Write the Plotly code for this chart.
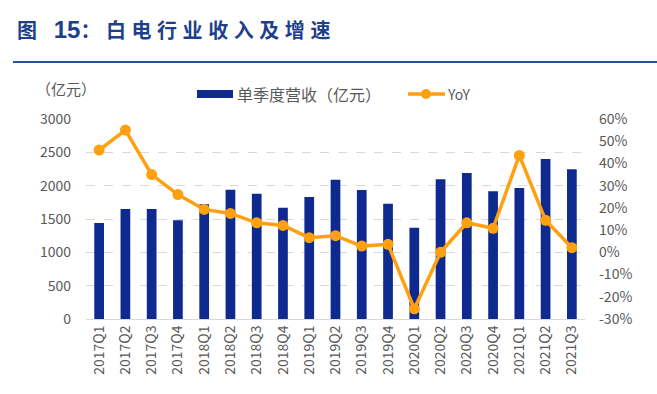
import plotly.graph_objects as go

quarters = ["2017Q1","2017Q2","2017Q3","2017Q4","2018Q1","2018Q2","2018Q3","2018Q4",
            "2019Q1","2019Q2","2019Q3","2019Q4","2020Q1","2020Q2","2020Q3","2020Q4",
            "2021Q1","2021Q2","2021Q3"]
revenue = [1440,1650,1650,1480,1720,1940,1880,1670,1830,2090,1935,1730,1370,2095,2190,1915,1965,2400,2245]
yoy = [46,55,35,26,19.3,17.5,13.3,12.1,6.6,7.5,2.8,3.6,-25.4,0,13.3,10.8,43.6,14.4,2.1]

left_ticks = [0,500,1000,1500,2000,2500,3000]
right_ticks = [-30,-20,-10,0,10,20,30,40,50,60]

BLUE = "#0F2A8E"
ORANGE = "#FFA010"
GREY = "#595959"
FONT = "Noto Sans CJK SC"

W, H = 657, 394
L, R, T, B = 86, 72, 119, 75
PW, PH = W - L - R, H - T - B

def xp(X):
    return (X - L) / PW

def yp(Y):
    return (H - B - Y) / PH

fig = go.Figure()
fig.add_trace(go.Bar(x=quarters, y=revenue, name="单季度营收（亿元）",
                     marker=dict(color=BLUE, line=dict(width=0)), width=0.37))
fig.add_trace(go.Scatter(x=quarters, y=yoy, name="YoY", yaxis="y2", mode="lines+markers",
                         line=dict(color=ORANGE, width=3.5), marker=dict(color=ORANGE, size=11)))

fig.update_layout(
    width=W, height=H,
    margin=dict(l=L, r=R, t=T, b=B, autoexpand=False),
    paper_bgcolor="white", plot_bgcolor="white",
    font=dict(family=FONT, color=GREY, size=14),
    showlegend=False,
    xaxis=dict(tickangle=-90, tickfont=dict(size=14, color=GREY), showgrid=False,
               showline=True, linecolor="#D9D9D9", linewidth=1, ticks="",
               range=[-0.5, len(quarters)-0.5], automargin=False),
    yaxis=dict(range=[0,3000], tickvals=left_ticks, showgrid=True, gridcolor="#D9D9D9",
               griddash="dash", gridwidth=1, zeroline=False, ticks="", automargin=False,
               tickfont=dict(size=14, color=GREY), ticklabelstandoff=14),
    yaxis2=dict(range=[-30,60], tickvals=right_ticks, ticktext=[f"{v}%" for v in right_ticks],
                overlaying="y", side="right", showgrid=False, zeroline=False, ticks="",
                automargin=False, ticklabelstandoff=13,
                tickfont=dict(size=14, color=GREY)),
)

# Title and rule
fig.add_annotation(text="<b>图&nbsp;&nbsp;&nbsp;<span style=\"font-size:24px\">15</span>： 白 电 行 业 收 入 及 增 速</b>",
                   xref="paper", yref="paper",
                   x=xp(15), y=yp(30), xanchor="left", yanchor="middle", showarrow=False,
                   font=dict(size=20, color="#1E3F8A", family="Liberation Sans, Noto Sans CJK SC"))
fig.add_shape(type="line", xref="paper", yref="paper", x0=xp(13), x1=xp(W),
              y0=yp(62), y1=yp(62), line=dict(color="#2850A8", width=2))

# Axis unit
fig.add_annotation(text="（亿元）", xref="paper", yref="paper", x=xp(34), y=yp(88),
                   xanchor="left", yanchor="middle", showarrow=False,
                   font=dict(size=15, color=GREY))

# Legend (drawn)
fig.add_shape(type="rect", xref="paper", yref="paper", x0=xp(197), x1=xp(233),
              y0=yp(98), y1=yp(90), fillcolor=BLUE, line=dict(width=0))
fig.add_annotation(text="单季度营收（亿元）", xref="paper", yref="paper", x=xp(235), y=yp(94),
                   xanchor="left", yanchor="middle", showarrow=False,
                   font=dict(size=16, color=GREY))
fig.add_shape(type="line", xref="paper", yref="paper", x0=xp(408), x1=xp(445),
              y0=yp(94), y1=yp(94), line=dict(color=ORANGE, width=3.5))
fig.add_shape(type="circle", xref="paper", yref="paper", x0=xp(421), x1=xp(431),
              y0=yp(99), y1=yp(89), fillcolor=ORANGE, line=dict(width=0))
fig.add_annotation(text="YoY", xref="paper", yref="paper", x=xp(445), y=yp(94),
                   xanchor="left", yanchor="middle", showarrow=False,
                   font=dict(size=14, color=GREY))

fig.write_html("out.html", config={"displayModeBar": False},
               post_script="document.body.style.margin='0';")
